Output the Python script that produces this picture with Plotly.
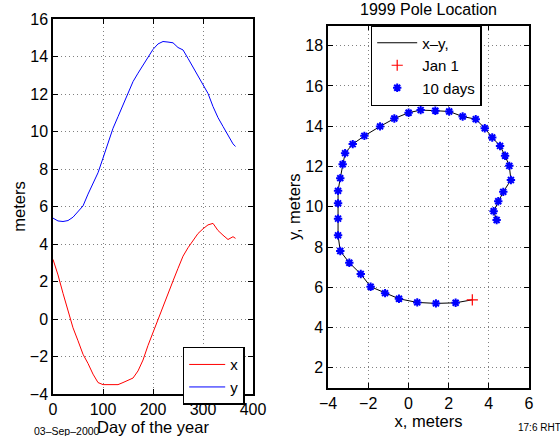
import plotly.graph_objects as go

# Day of year for each sample (Jan 1, then every 10 days, then end of year)
days = [0, 10, 20, 30, 40, 50, 60, 70, 80, 90, 100, 110, 120, 130, 140, 150, 160, 170, 180,
        190, 200, 210, 220, 230, 240, 250, 260, 270, 280, 290, 300, 310, 320, 330, 340,
        350, 360, 365]

# Pole x position, meters
x_m = [3.18, 2.35, 1.37, 0.44, -0.47, -1.16, -1.88, -2.37, -2.94, -3.39, -3.50, -3.50,
       -3.50, -3.50, -3.39, -3.27, -3.15, -2.77, -2.19, -1.41, -0.70, 0.01, 0.61, 1.34,
       2.03, 2.70, 3.35, 3.80, 4.17, 4.56, 4.81, 5.02, 5.10, 4.72, 4.47, 4.24, 4.39, 4.30]

# Pole y position, meters
y_m = [5.38, 5.23, 5.20, 5.25, 5.43, 5.71, 6.03, 6.66, 7.22, 7.80, 8.58, 9.41, 10.17,
       10.79, 11.42, 12.11, 12.66, 13.11, 13.52, 13.99, 14.38, 14.67, 14.80, 14.77,
       14.73, 14.48, 14.35, 13.90, 13.44, 13.02, 12.53, 12.03, 11.33, 10.74, 10.27,
       9.78, 9.34, 9.20]

left_xticks = [0, 100, 200, 300, 400]
left_yticks = [-4, -2, 0, 2, 4, 6, 8, 10, 12, 14, 16]
right_xticks = [-4, -2, 0, 2, 4, 6]
right_yticks = [2, 4, 6, 8, 10, 12, 14, 16, 18]

title_text = "1999 Pole Location"
date_text = "03\u2013Sep\u20132000"
stamp_text = "17:6 RHT"

W, H = 560, 436
FONT = "Liberation Sans, Arial, Helvetica, sans-serif"

fig = go.Figure()

# Left panel: time series
fig.add_trace(go.Scatter(x=days, y=x_m, mode="lines", name="x",
                         line=dict(color="#ff0000", width=1),
                         xaxis="x", yaxis="y", legend="legend"))
fig.add_trace(go.Scatter(x=days, y=y_m, mode="lines", name="y",
                         line=dict(color="#0000ff", width=1),
                         xaxis="x", yaxis="y", legend="legend"))

# Right panel: x-y path
fig.add_trace(go.Scatter(x=x_m, y=y_m, mode="lines", name="x\u2013y,",
                         line=dict(color="black", width=1),
                         xaxis="x2", yaxis="y2", legend="legend2"))
fig.add_trace(go.Scatter(x=x_m[:1], y=y_m[:1], mode="markers", name="Jan 1",
                         marker=dict(symbol="cross-thin-open", size=8, color="#ff0000",
                                     line=dict(color="#ff0000", width=1.2)),
                         xaxis="x2", yaxis="y2", legend="legend2"))
fig.add_trace(go.Scatter(x=x_m[1:37], y=y_m[1:37], mode="markers", name="10 days",
                         marker=dict(symbol="asterisk-open", size=7, color="#0000ff",
                                     line=dict(color="#0000ff", width=2)),
                         xaxis="x2", yaxis="y2", legend="legend2"))

axis_common = dict(
    showline=True, linecolor="black", linewidth=1.5, mirror="allticks",
    ticks="inside", ticklen=5, tickcolor="black", tickwidth=1,
    showgrid=True, gridcolor="#808080", griddash="1px,3px", gridwidth=1,
    zeroline=False, tickfont=dict(size=16, color="black", family=FONT),
    automargin=False,
)

fig.update_layout(
    width=W, height=H,
    margin=dict(l=0, r=0, t=0, b=0),
    paper_bgcolor="white", plot_bgcolor="white",
    font=dict(family=FONT, color="black", size=16),
    xaxis=dict(domain=[53 / W, 253 / W], range=[0, 400], tickvals=left_xticks,
               anchor="y",
               title=dict(text="Day of the year", font=dict(size=16.5), standoff=5),
               **axis_common),
    yaxis=dict(domain=[1 - 394 / H, 1 - 19 / H], range=[-4, 16], tickvals=left_yticks,
               anchor="x",
               title=dict(text="meters", font=dict(size=16.5), standoff=0),
               **axis_common),
    xaxis2=dict(domain=[328 / W, 529 / W], range=[-4, 6], tickvals=right_xticks,
                anchor="y2",
                title=dict(text="x, meters", font=dict(size=16.5), standoff=4),
                **axis_common),
    yaxis2=dict(domain=[1 - 388 / H, 1 - 25.5 / H], range=[1, 19], tickvals=right_yticks,
                anchor="x2",
                title=dict(text="y, meters", font=dict(size=16.5), standoff=0),
                **axis_common),
    legend=dict(x=182.7 / W, y=1 - 346.7 / H, xanchor="left", yanchor="top",
                bgcolor="white", bordercolor="black", borderwidth=1.5,
                font=dict(size=15, family=FONT), tracegroupgap=0, itemwidth=36),
    legend2=dict(x=370.7 / W, y=1 - 25 / H, xanchor="left", yanchor="top",
                 bgcolor="white", bordercolor="black", borderwidth=1.5,
                 font=dict(size=15, family=FONT), tracegroupgap=0, itemwidth=40),
    showlegend=True,
    annotations=[
        dict(text=title_text, xref="paper", yref="paper", x=428.5 / W, y=1 - 9 / H,
             xanchor="center", yanchor="middle", showarrow=False,
             font=dict(size=16, family=FONT)),
        dict(text=date_text, xref="paper", yref="paper", x=32 / W, y=1 - 431 / H,
             xanchor="left", yanchor="middle", showarrow=False,
             font=dict(size=10.5, family=FONT)),
        dict(text=stamp_text, xref="paper", yref="paper", x=516 / W, y=1 - 427 / H,
             xanchor="left", yanchor="middle", showarrow=False,
             font=dict(size=10, family=FONT)),
    ],
)

fig.write_html(
    "out.html",
    config={"displayModeBar": False},
    post_script="document.body.style.margin='0';document.body.style.overflow='hidden';",
)
